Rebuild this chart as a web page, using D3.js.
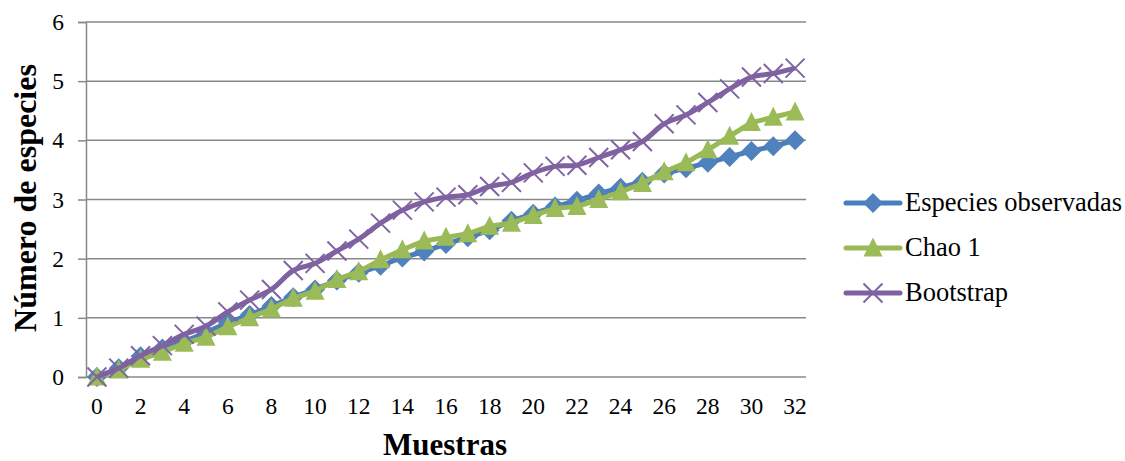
<!DOCTYPE html>
<html>
<head>
<meta charset="utf-8">
<script src="https://cdn.jsdelivr.net/npm/d3@7"></script>
<style>
  html, body { margin: 0; padding: 0; background: #fff; }
  svg text { font-family: "Liberation Serif", "Times New Roman", "DejaVu Serif", serif !important; }
</style>
</head>
<body>
<svg id="chart" width="1125" height="461"></svg>
<script>
const samples = d3.range(0, 33);
const xTickLabels = [0, 2, 4, 6, 8, 10, 12, 14, 16, 18, 20, 22, 24, 26, 28, 30, 32];
const yTicks = [0, 1, 2, 3, 4, 5, 6];
const seriesNames = ["Especies observadas", "Chao 1", "Bootstrap"];

const observadas = [0, 0.15, 0.35, 0.48, 0.6, 0.75, 0.92, 1.05, 1.2, 1.35, 1.48, 1.63, 1.76, 1.88, 2.02, 2.12, 2.25, 2.36, 2.48, 2.64, 2.76, 2.88, 2.98, 3.1, 3.2, 3.3, 3.44, 3.53, 3.62, 3.72, 3.82, 3.9, 4.0];
const chao1 = [0, 0.12, 0.3, 0.42, 0.57, 0.67, 0.85, 1.0, 1.15, 1.33, 1.45, 1.65, 1.78, 1.98, 2.15, 2.3, 2.36, 2.42, 2.55, 2.6, 2.73, 2.85, 2.88, 3.0, 3.13, 3.27, 3.47, 3.62, 3.84, 4.07, 4.3, 4.39, 4.48];
const bootstrap = [0, 0.15, 0.36, 0.53, 0.72, 0.86, 1.1, 1.3, 1.48, 1.8, 1.92, 2.13, 2.33, 2.6, 2.82, 2.96, 3.04, 3.08, 3.22, 3.29, 3.45, 3.56, 3.58, 3.71, 3.84, 3.98, 4.28, 4.43, 4.64, 4.87, 5.07, 5.13, 5.22];

const svg = d3.select("#chart");
const plotLeft = 86, plotRight = 806, plotTop = 22, plotBottom = 377;
const serif = '"Liberation Serif", "Times New Roman", serif';

const x = d3.scaleBand().domain(samples).range([plotLeft, plotRight]);
const y = d3.scaleLinear().domain([0, 6]).range([plotBottom, plotTop]);
const cx = d => x(d) + x.bandwidth() / 2;

// gridlines
svg.append("g").selectAll("line").data(yTicks).join("line")
  .attr("x1", plotLeft).attr("x2", plotRight)
  .attr("y1", d => y(d)).attr("y2", d => y(d))
  .attr("stroke", "#898989").attr("stroke-width", 1.5);

// y axis
const yAxis = svg.append("g").attr("transform", `translate(${plotLeft},0)`)
  .call(d3.axisLeft(y).tickValues(yTicks).tickSize(8).tickPadding(14).tickFormat(d3.format("d")));
yAxis.attr("font-family", null);
yAxis.select(".domain").attr("stroke", "#898989").attr("stroke-width", 1.5);
yAxis.selectAll(".tick line").attr("stroke", "#898989").attr("stroke-width", 1.5);
yAxis.selectAll("text").attr("font-size", 23.5).attr("fill", "#000").style("font-family", serif);

// x axis labels
const xAxis = svg.append("g").attr("transform", `translate(0,${plotBottom})`)
  .call(d3.axisBottom(x).tickValues(xTickLabels).tickSize(0).tickPadding(20));
xAxis.attr("font-family", null);
xAxis.select(".domain").remove();
xAxis.selectAll("text").attr("font-size", 23.5).attr("fill", "#000").style("font-family", serif);

// axis titles
svg.append("text").attr("x", 445).attr("y", 455).attr("text-anchor", "middle")
  .attr("font-size", 31).attr("font-weight", "bold").style("font-family", serif).text("Muestras");
svg.append("text").attr("transform", "translate(36,198) rotate(-90)").attr("text-anchor", "middle")
  .attr("font-size", 32).attr("font-weight", "bold").style("font-family", serif).text("Número de especies");

const colors = { line: ["#4A7EBB", "#98B954", "#7F60A0"], marker: ["#4F81BD", "#9BBB59", "#8064A2"] };
const data = [observadas, chao1, bootstrap];

const diamond = (px, py, r) => `M${px},${py - r}L${px + r},${py}L${px},${py + r}L${px - r},${py}Z`;
const triangle = (px, py, r) => `M${px},${py - r * 1.05}L${px + r * 0.95},${py + r * 0.85}L${px - r * 0.95},${py + r * 0.85}Z`;
const cross = (px, py, r) => `M${px - r},${py - r}L${px + r},${py + r}M${px - r},${py + r}L${px + r},${py - r}`;

function drawMarker(g, k, px, py) {
  if (k === 0) g.append("path").attr("d", diamond(px, py, 10)).attr("fill", colors.marker[0]);
  else if (k === 1) g.append("path").attr("d", triangle(px, py, 10)).attr("fill", colors.marker[1]);
  else g.append("path").attr("d", cross(px, py, 9.5)).attr("fill", "none").attr("stroke", colors.marker[2]).attr("stroke-width", 2);
}

data.forEach((vals, k) => {
  const g = svg.append("g");
  const line = d3.line().x((d, i) => cx(samples[i])).y(d => y(d))
    .curve(k === 2 ? d3.curveCatmullRom.alpha(0.5) : d3.curveLinear);
  g.append("path").datum(vals).attr("d", line).attr("fill", "none")
    .attr("stroke", colors.line[k]).attr("stroke-width", 5).attr("stroke-linejoin", "round");
  vals.forEach((v, i) => drawMarker(g, k, cx(samples[i]), y(v)));
});

// legend
const legendY = [203, 248, 293];
seriesNames.forEach((name, k) => {
  const g = svg.append("g");
  g.append("line").attr("x1", 846).attr("x2", 900).attr("y1", legendY[k]).attr("y2", legendY[k])
    .attr("stroke", colors.line[k]).attr("stroke-width", 5).attr("stroke-linecap", "round");
  drawMarker(g, k, 873, legendY[k]);
  g.append("text").attr("x", 905).attr("y", legendY[k] + 8).attr("font-size", 26.5).attr("fill", "#000")
    .style("font-family", serif).text(name);
});
</script>
</body>
</html>
